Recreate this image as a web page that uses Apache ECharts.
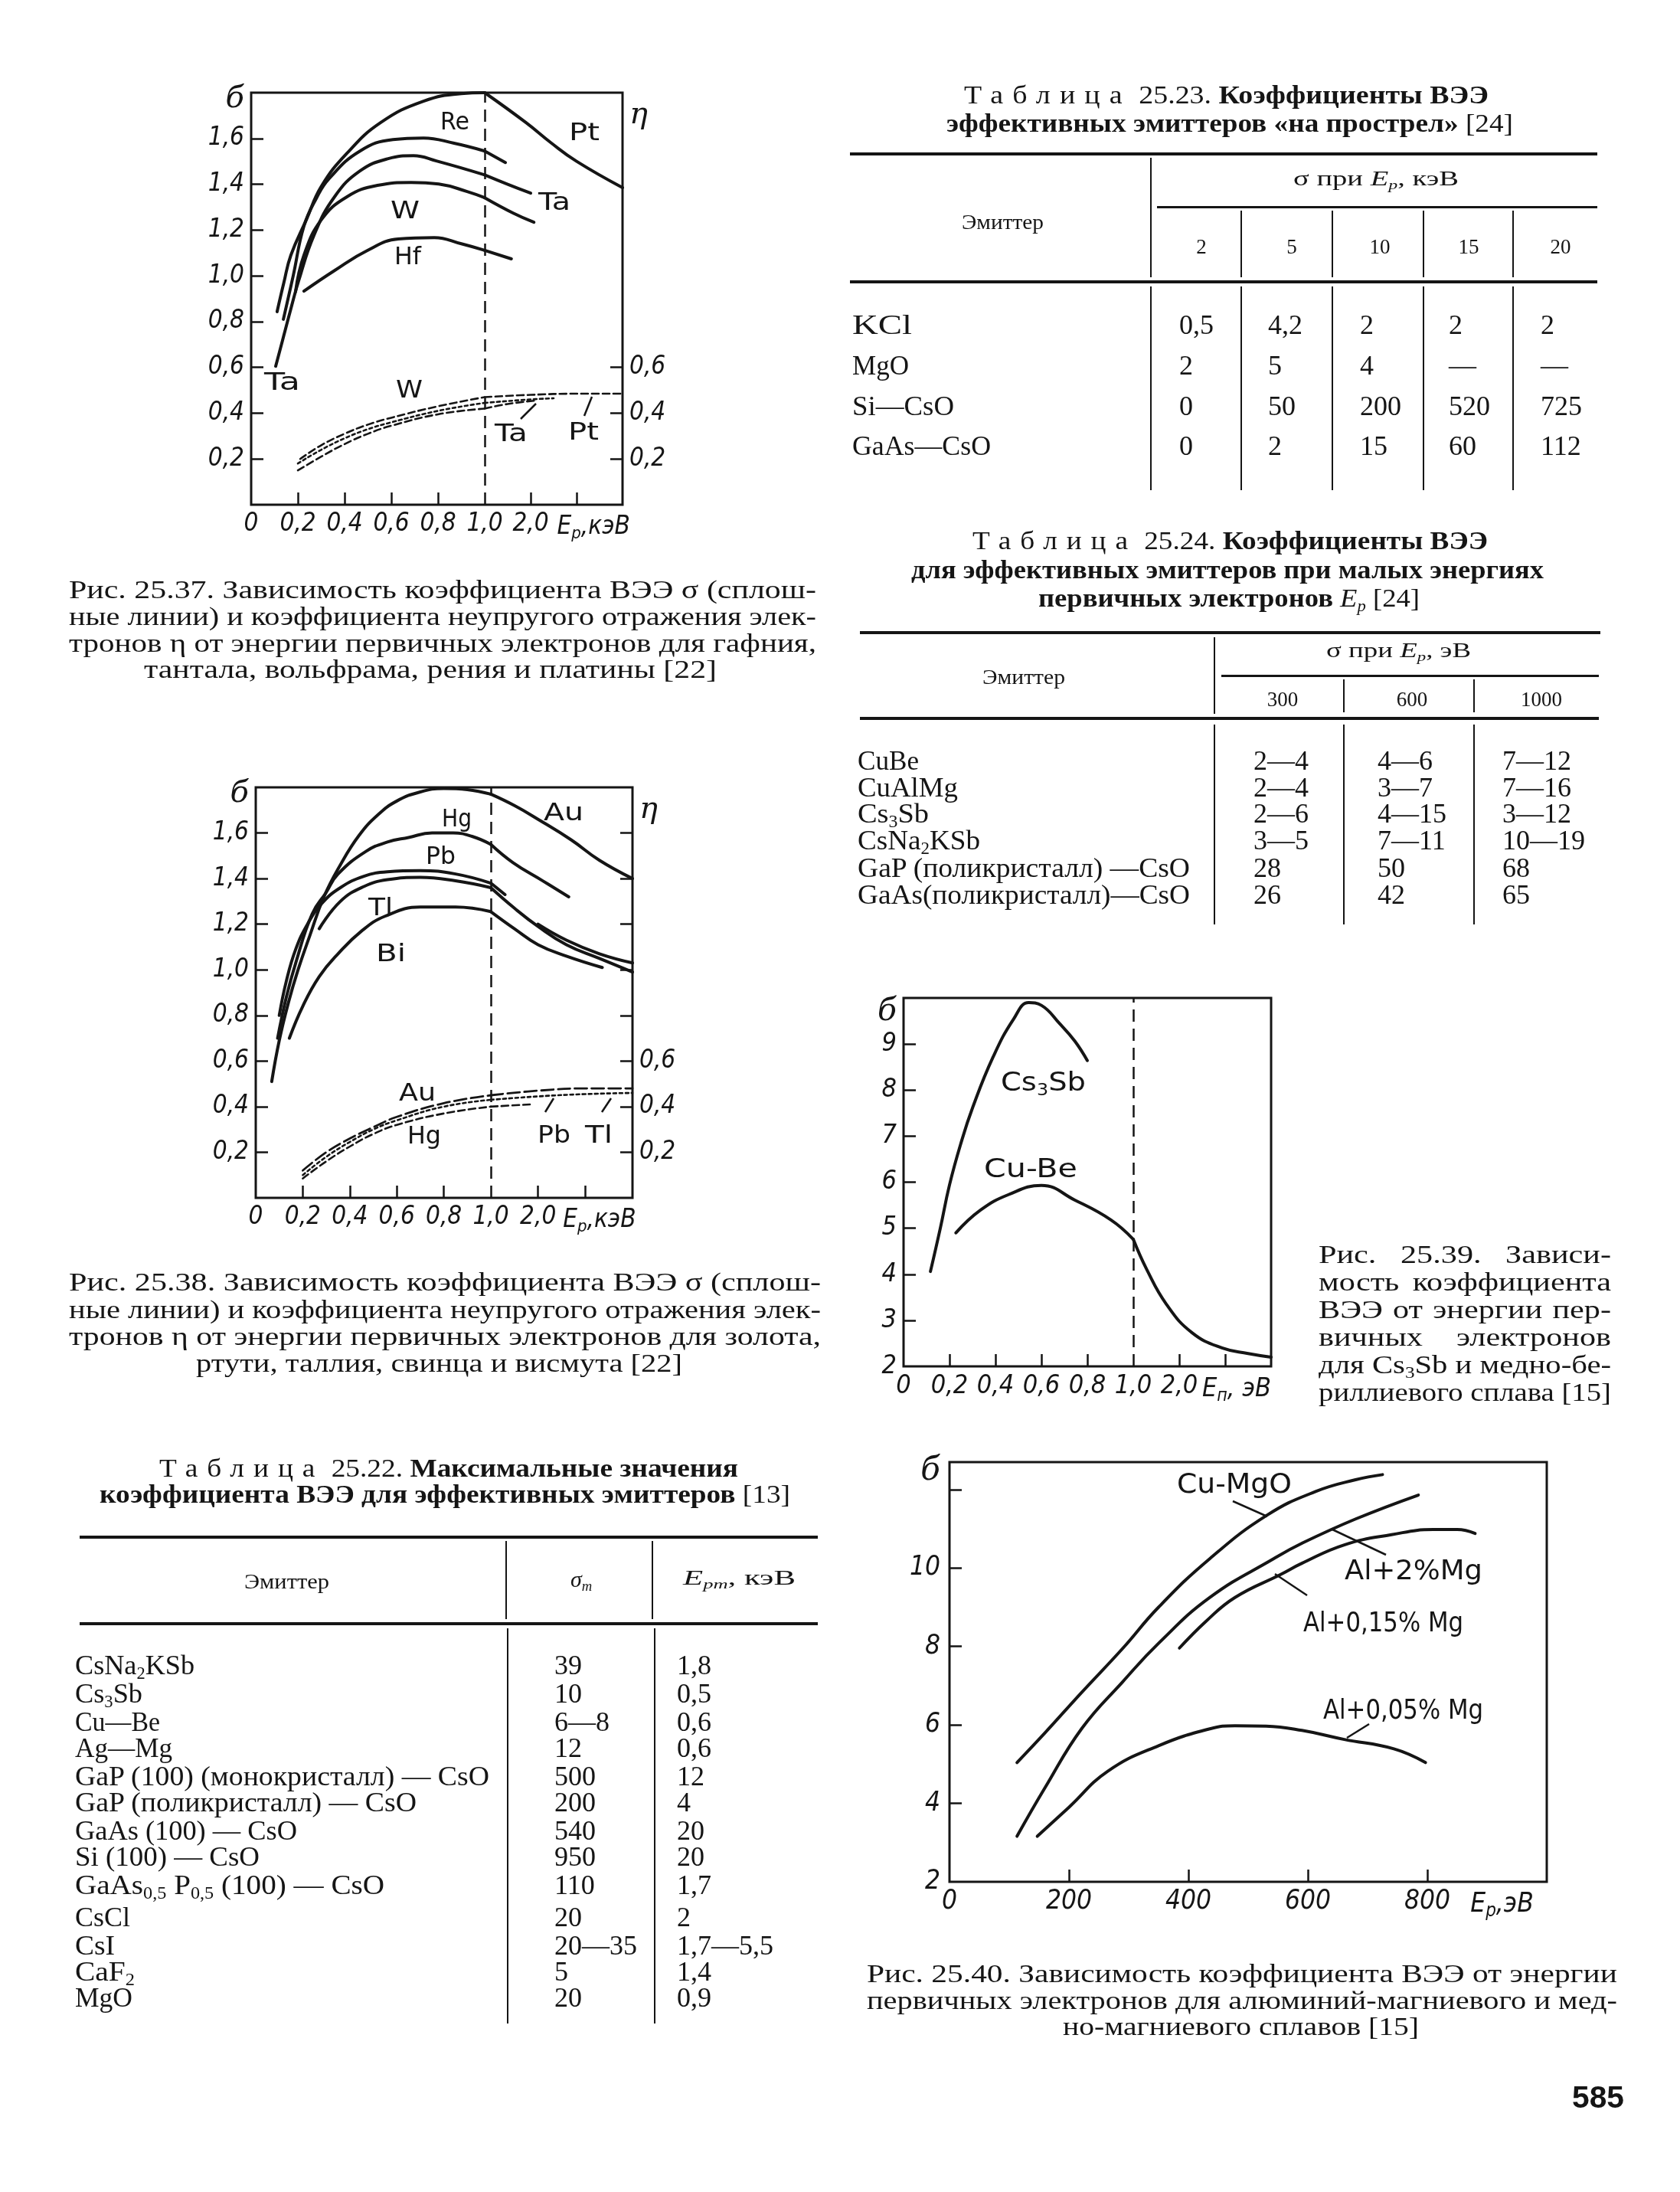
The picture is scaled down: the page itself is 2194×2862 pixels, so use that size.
<!DOCTYPE html>
<html>
<head>
<meta charset="utf-8">
<script src="https://cdn.jsdelivr.net/npm/echarts@6/dist/echarts.min.js"></script>
<style>
  html, body { margin: 0; padding: 0; background: #fff; }
  #page { position: relative; width: 2194px; height: 2862px; overflow: hidden; background: #fff; }
  #chart { position: absolute; left: 0; top: 0; width: 2194px; height: 2862px; }
  .t { position: absolute; white-space: nowrap; line-height: 1; color: #151515;
       font-family: "Liberation Serif", "Times New Roman", serif; transform-origin: 0 50%; }
  .t sub { font-size: 0.62em; vertical-align: -0.28em; line-height: 0; }
  .sp { letter-spacing: 0.32em; }
  .r { position: absolute; background: #151515; }
</style>
</head>
<body>
<div id="page"><div id="chart"></div></div>
<script>
// ---------- рис. 25.37: Ep (кэВ) -> σ, η ----------
const ptSigma = [[0.111, 0.843], [0.14, 0.97], [0.17, 1.09], [0.236, 1.244], [0.30, 1.39], [0.41, 1.535], [0.554, 1.669], [0.738, 1.763], [0.90, 1.796], [1.0, 1.80], [1.9, 1.669], [2.45, 1.58], [3.0, 1.50], [4.0, 1.385]];
const reSigma = [[0.138, 0.81], [0.18, 1.0], [0.226, 1.217], [0.28, 1.34], [0.334, 1.425], [0.466, 1.545], [0.607, 1.595], [0.738, 1.602], [0.869, 1.579], [1.0, 1.545], [1.45, 1.495]];
const taSigma = [[0.105, 0.605], [0.14, 0.74], [0.17, 0.856], [0.203, 0.977], [0.269, 1.177], [0.357, 1.345], [0.466, 1.458], [0.587, 1.512], [0.695, 1.525], [0.793, 1.502], [1.0, 1.441], [1.5, 1.40], [2.0, 1.361]];
const wSigma = [[0.19, 0.93], [0.226, 1.09], [0.30, 1.244], [0.41, 1.345], [0.541, 1.395], [0.685, 1.408], [0.803, 1.401], [0.925, 1.368], [1.0, 1.341], [1.62, 1.274], [2.07, 1.234]];
const hfSigma = [[0.226, 0.933], [0.357, 1.023], [0.498, 1.111], [0.63, 1.161], [0.784, 1.167], [0.90, 1.14], [1.0, 1.111], [1.58, 1.074]];
const ptEta = [[0.21, 0.2], [0.3, 0.26], [0.4, 0.31], [0.5, 0.35], [0.6, 0.38], [0.8, 0.43], [1.0, 0.47], [2.0, 0.48], [3.0, 0.485], [4.0, 0.485]];
const wEta = [[0.2, 0.18], [0.3, 0.24], [0.4, 0.29], [0.5, 0.33], [0.6, 0.36], [0.8, 0.41], [1.0, 0.445], [2.0, 0.46], [2.5, 0.465]];
const taEta = [[0.2, 0.15], [0.3, 0.21], [0.4, 0.265], [0.5, 0.31], [0.6, 0.345], [0.8, 0.395], [1.0, 0.42], [1.5, 0.44], [2.1, 0.455]];

// ---------- рис. 25.38 ----------
const auSigma = [[0.068, 0.51], [0.1, 0.69], [0.14, 0.86], [0.18, 1.0], [0.23, 1.15], [0.29, 1.32], [0.36, 1.46], [0.44, 1.59], [0.52, 1.68], [0.6, 1.74], [0.7, 1.78], [0.8, 1.795], [0.9, 1.79], [1.0, 1.77], [1.5, 1.72], [2.0, 1.66], [2.7, 1.57], [3.3, 1.48], [4.0, 1.40]];
const hgSigma = [[0.093, 0.70], [0.13, 0.88], [0.17, 1.03], [0.24, 1.245], [0.30, 1.34], [0.35, 1.42], [0.47, 1.52], [0.56, 1.56], [0.65, 1.58], [0.75, 1.60], [0.84, 1.60], [0.92, 1.585], [1.0, 1.55], [1.47, 1.47], [2.1, 1.39], [2.65, 1.32]];
const pbSigma = [[0.10, 0.80], [0.13, 0.95], [0.17, 1.09], [0.22, 1.2], [0.28, 1.29], [0.36, 1.36], [0.46, 1.41], [0.56, 1.43], [0.7, 1.435], [0.85, 1.42], [1.0, 1.38], [1.3, 1.33]];
const tlSigma = [[0.27, 1.18], [0.36, 1.30], [0.46, 1.365], [0.56, 1.395], [0.7, 1.405], [0.85, 1.39], [1.0, 1.36], [1.5, 1.27], [2.0, 1.19], [2.6, 1.11], [3.3, 1.05], [4.0, 0.99]];
const biSigma = [[0.143, 0.70], [0.2, 0.84], [0.27, 0.97], [0.35, 1.07], [0.45, 1.17], [0.55, 1.235], [0.7, 1.275], [0.85, 1.275], [1.0, 1.255], [1.5, 1.18], [2.0, 1.11], [2.6, 1.06], [3.36, 1.01]];
const tlTail = [[2.0, 1.20], [2.6, 1.13], [3.3, 1.07], [4.0, 1.03]];
const auEta = [[0.2, 0.12], [0.3, 0.20], [0.4, 0.26], [0.5, 0.31], [0.6, 0.355], [0.8, 0.415], [1.0, 0.45], [2.0, 0.47], [3.0, 0.48], [4.0, 0.48]];
const pbTlEta = [[0.2, 0.10], [0.3, 0.18], [0.4, 0.245], [0.5, 0.30], [0.6, 0.34], [0.8, 0.40], [1.0, 0.43], [2.0, 0.445], [3.0, 0.455], [4.0, 0.46]];
const hgEta = [[0.2, 0.085], [0.3, 0.16], [0.4, 0.225], [0.5, 0.28], [0.6, 0.32], [0.8, 0.37], [1.0, 0.40], [1.84, 0.41]];

// ---------- рис. 25.39 ----------
const cs3sbSigma = [[0.117, 4.06], [0.16, 5.0], [0.20, 5.94], [0.25, 6.85], [0.30, 7.61], [0.39, 8.72], [0.48, 9.55], [0.545, 9.9], [0.60, 9.84], [0.68, 9.44], [0.746, 9.06], [0.80, 8.64]];
const cuBeSigma = [[0.228, 4.9], [0.334, 5.39], [0.457, 5.73], [0.60, 5.93], [0.746, 5.61], [0.903, 5.18], [1.0, 4.76], [1.29, 4.11], [1.72, 3.35], [2.28, 2.73], [2.93, 2.40], [3.5, 2.28], [4.0, 2.2]];

// ---------- рис. 25.40: Ep (эВ) ----------
const cuMgO = [[113, 5.04], [160, 5.8], [222, 6.84], [290, 7.95], [350, 9.0], [436, 10.24], [532, 11.35], [613, 11.95], [680, 12.25], [725, 12.38]];
const al2Mg = [[113, 3.16], [160, 4.4], [222, 5.92], [290, 7.1], [350, 8.08], [436, 9.25], [543, 10.24], [590, 10.63], [680, 11.25], [785, 11.86]];
const al015Mg = [[385, 7.96], [430, 8.65], [478, 9.25], [555, 9.84], [590, 10.12], [661, 10.59], [740, 10.85], [810, 10.98], [850, 10.98], [880, 10.88]];
const al005Mg = [[147, 3.16], [200, 3.9], [265, 4.82], [350, 5.47], [436, 5.9], [478, 5.98], [530, 5.97], [590, 5.86], [661, 5.63], [744, 5.39], [797, 5.04]];

// ---------- деления осей ----------
const epLowTicks = [0.2, 0.4, 0.6, 0.8];
const epLowLabels = [0, 0.2, 0.4, 0.6, 0.8, 1.0];
const epHighTicks = [2, 3];
const epHighLabels = [2];
const sigmaTicks = [0.2, 0.4, 0.6, 0.8, 1.0, 1.2, 1.4, 1.6];
const etaTicks37 = [0.2, 0.4, 0.6];
const etaLabels = [0.2, 0.4, 0.6];
const sigmaTicks39 = [3, 4, 5, 6, 7, 8, 9];
const sigmaLabels39 = [2, 3, 4, 5, 6, 7, 8, 9];
const epTicks40 = [200, 400, 600, 800];
const epLabels40 = [0, 200, 400, 600, 800];
const sigmaTicks40 = [4, 6, 8, 10, 12];
const sigmaLabels40 = [2, 4, 6, 8, 10];

// ---------- таблицы ----------
const t23Emitters = ['KCl', 'MgO', 'Si—CsO', 'GaAs—CsO'];
const t23Energies = ['2', '5', '10', '15', '20'];
const t23Values = [
    ['0,5', '4,2', '2', '2', '2'],
    ['2', '5', '4', '—', '—'],
    ['0', '50', '200', '520', '725'],
    ['0', '2', '15', '60', '112']
];
const t24Emitters = ['CuBe', 'CuAlMg', 'Cs<sub>3</sub>Sb', 'CsNa<sub>2</sub>KSb', 'GaP (поликристалл) —CsO', 'GaAs(поликристалл)—CsO'];
const t24Energies = ['300', '600', '1000'];
const t24Values = [
    ['2—4', '4—6', '7—12'],
    ['2—4', '3—7', '7—16'],
    ['2—6', '4—15', '3—12'],
    ['3—5', '7—11', '10—19'],
    ['28', '50', '68'],
    ['26', '42', '65']
];
const t22Emitters = ['CsNa<sub>2</sub>KSb', 'Cs<sub>3</sub>Sb', 'Cu—Be', 'Ag—Mg', 'GaP (100) (монокристалл) — CsO', 'GaP (поликристалл) — CsO',
    'GaAs (100) — CsO', 'Si (100) — CsO', 'GaAs<sub>0,5</sub> P<sub>0,5</sub> (100) — CsO', 'CsCl', 'CsI', 'CaF<sub>2</sub>', 'MgO'];
const t22SigmaMax = ['39', '10', '6—8', '12', '500', '200', '540', '950', '110', '20', '20—35', '5', '20'];
const t22Epm = ['1,8', '0,5', '0,6', '0,6', '12', '4', '20', '20', '1,7', '2', '1,7—5,5', '1,4', '0,9'];

// ================= графики =================
const INK = '#151515';
const AXIS_FONT = '"Liberation Sans Narrow", "DejaVu Sans Condensed", "Liberation Sans", sans-serif';

let chart = echarts.init(document.querySelector('#chart'));

const option = {
    animation: false,
    backgroundColor: 'rgba(0,0,0,0)',
    grid: [], xAxis: [], yAxis: [], series: [], graphic: []
};

function eLabel(sub, unit) {
    return '{e|E}{s|' + sub + '}{e|,' + unit + '}';
}

function fmt(dec, special) {
    return function (v) {
        for (const [sv, st] of special || []) {
            if (Math.abs(v - sv) < 1e-6) return st;
        }
        if (Math.abs(v) < 1e-9) return '0';
        return v.toFixed(dec).replace('.', ',');
    };
}

function rich(fs) {
    return {
        e: { fontSize: fs, fontStyle: 'italic', fontFamily: AXIS_FONT, color: INK },
        s: { fontSize: Math.round(fs * 0.68), fontStyle: 'italic', fontFamily: AXIS_FONT, color: INK, padding: [Math.round(fs * 0.55), 0, 0, 0] },
        g: { fontSize: Math.round(fs * 1.2), fontStyle: 'italic', fontFamily: '"DejaVu Serif", serif', color: INK }
    };
}

function valAxis(o) {
    return {
        type: 'value', gridIndex: o.grid, position: o.position, min: o.min, max: o.max,
        axisLine: { show: false },
        splitLine: { show: false },
        axisTick: o.ticks ? { show: true, inside: true, length: 16, customValues: o.ticks, lineStyle: { color: INK, width: 2.5 } } : { show: false },
        axisLabel: o.labels ? {
            show: true, customValues: o.labels, formatter: o.fmt, margin: o.margin || 9,
            color: INK, fontSize: o.fs, fontStyle: 'italic', fontFamily: AXIS_FONT, rich: rich(o.fs),
            showMinLabel: true, showMaxLabel: true, hideOverlap: false
        } : { show: false }
    };
}

// график с разрывом шкалы при 1,0 кэВ: две сетки + рамка
function addBroken(c) {
    const g = option.grid.length;
    const xi = option.xAxis.length, yi = option.yAxis.length;
    option.grid.push({ left: c.left, top: c.top, width: c.split, height: c.height });
    option.grid.push({ left: c.left + c.split, top: c.top, width: c.width - c.split, height: c.height });
    option.grid.push({ left: c.left, top: c.top, width: c.width, height: c.height, show: true, borderColor: INK, borderWidth: 3, backgroundColor: 'rgba(0,0,0,0)' });
    const xf = fmt(1, c.xSpecial);
    option.xAxis.push(valAxis({ grid: g, min: 0, max: 1, ticks: epLowTicks, labels: epLowLabels, fmt: xf, fs: c.fs, margin: c.xMargin }));
    option.xAxis.push(valAxis({ grid: g + 1, min: 1, max: 4, ticks: epHighTicks, labels: c.xLabelsR, fmt: xf, fs: c.fs, margin: c.xMargin }));
    option.xAxis.push({ gridIndex: g + 2, type: 'value', show: false, min: 0, max: 1 });
    option.yAxis.push(valAxis({ grid: g, min: c.ymin, max: c.ymax, ticks: c.yTicks, labels: c.yLabels, fmt: fmt(c.yDec, c.ySpecial), fs: c.fs }));
    option.yAxis.push(valAxis({ grid: g + 1, position: 'right', min: c.ymin, max: c.ymax, ticks: c.rTicks, labels: c.rLabels, fmt: fmt(c.yDec, c.rSpecial), fs: c.fs }));
    option.yAxis.push({ gridIndex: g + 2, type: 'value', show: false, min: 0, max: 1 });
    return { xl: xi, yl: yi, xr: xi + 1, yr: yi + 1, marked: false };
}

function lineSeries(data, xi, yi, st) {
    return {
        type: 'line', xAxisIndex: xi, yAxisIndex: yi, data: data,
        smooth: 0.45, symbol: 'none', silent: true, z: 3,
        lineStyle: Object.assign({ color: INK, width: 4, cap: 'round', join: 'round' }, st || {})
    };
}

function addCurve(ax, data, st) {
    const lo = data.filter(p => p[0] <= 1), hi = data.filter(p => p[0] >= 1);
    if (lo.length > 1) {
        const s = lineSeries(lo, ax.xl, ax.yl, st);
        if (!ax.marked) {
            s.markLine = {
                silent: true, symbol: ['none', 'none'], label: { show: false },
                lineStyle: { color: INK, type: [16, 9], width: 2.5 },
                data: [{ xAxis: 1 }]
            };
            ax.marked = true;
        }
        option.series.push(s);
    }
    if (hi.length > 1) option.series.push(lineSeries(hi, ax.xr, ax.yr, st));
}

const ETA = { width: 2.6, type: [9, 5] };
const ETA2 = { width: 2.6, type: [4, 4] };

// рис. 25.37
const ax37 = addBroken({
    left: 328, top: 121, width: 485, height: 538, split: 305, ymin: 0, ymax: 1.8, fs: 33, yDec: 1,
    xLabelsR: epHighLabels.concat([3.37]), xSpecial: [[3.37, eLabel('p', 'кэВ')]],
    yTicks: sigmaTicks, yLabels: sigmaTicks.concat([1.77]), ySpecial: [[1.77, '{g|б}']],
    rTicks: etaTicks37, rLabels: etaLabels.concat([1.7]), rSpecial: [[1.7, '{g|η}']]
});
[ptSigma, reSigma, taSigma, wSigma, hfSigma].forEach(d => addCurve(ax37, d));
addCurve(ax37, ptEta, ETA);
addCurve(ax37, wEta, ETA2);
addCurve(ax37, taEta, ETA);

// рис. 25.38
const ax38 = addBroken({
    left: 334, top: 1028, width: 492, height: 536, split: 307, ymin: 0, ymax: 1.8, fs: 33, yDec: 1,
    xLabelsR: epHighLabels.concat([3.3]), xSpecial: [[3.3, eLabel('p', 'кэВ')]],
    yTicks: sigmaTicks, yLabels: sigmaTicks.concat([1.77]), ySpecial: [[1.77, '{g|б}']],
    rTicks: sigmaTicks, rLabels: etaLabels.concat([1.7]), rSpecial: [[1.7, '{g|η}']]
});
[auSigma, hgSigma, pbSigma, tlSigma, biSigma, tlTail].forEach(d => addCurve(ax38, d));
addCurve(ax38, auEta, { width: 2.8, type: [16, 6] });
addCurve(ax38, pbTlEta, ETA2);
addCurve(ax38, hgEta, ETA);

// рис. 25.39
const ax39 = addBroken({
    left: 1180, top: 1303, width: 480, height: 481, split: 300, ymin: 2, ymax: 10, fs: 34, yDec: 0,
    xLabelsR: epHighLabels.concat([3.25]), xSpecial: [[3.25, eLabel('п', ' эВ')]],
    yTicks: sigmaTicks39, yLabels: sigmaLabels39.concat([9.7]), ySpecial: [[9.7, '{g|б}']],
    rTicks: null, rLabels: null
});
addCurve(ax39, cs3sbSigma);
addCurve(ax39, cuBeSigma);

// рис. 25.40: одна сетка
(function () {
    const g = option.grid.length, xi = option.xAxis.length, yi = option.yAxis.length;
    option.grid.push({ left: 1240, top: 1909, width: 780, height: 548, show: true, borderColor: INK, borderWidth: 3, backgroundColor: 'rgba(0,0,0,0)' });
    option.xAxis.push(valAxis({ grid: g, min: 0, max: 1000, ticks: epTicks40, labels: epLabels40.concat([925]),
        fmt: fmt(0, [[925, eLabel('p', 'эВ')]]), fs: 35, margin: 8 }));
    option.yAxis.push(valAxis({ grid: g, min: 2, max: 12.7, ticks: sigmaTicks40, labels: sigmaLabels40.concat([12.47]),
        fmt: fmt(0, [[12.47, '{g|б}']]), fs: 35, margin: 12 }));
    [cuMgO, al2Mg, al015Mg, al005Mg].forEach(d => option.series.push(lineSeries(d, xi, yi)));
})();

// выноски к подписям кривых
const leaders = [
    [680, 547, 700, 527], [763, 543, 773, 518],
    [712, 1452, 723, 1434], [786, 1452, 798, 1434],
    [1610, 1960, 1655, 1980], [1740, 1997, 1810, 2030], [1665, 2055, 1707, 2083], [1759, 2269, 1788, 2251]
];
option.graphic = leaders.map(l => ({
    type: 'line', silent: true, z: 10,
    shape: { x1: l[0], y1: l[1], x2: l[2], y2: l[3] },
    style: { stroke: INK, lineWidth: 2.5 }
}));

chart.setOption(option);

// ================= текст и таблицы =================
const page = document.getElementById('page');

function put(html, x, y, o) {
    o = o || {};
    const d = document.createElement('div');
    d.className = 't';
    d.innerHTML = html;
    d.style.fontSize = (o.fs || 36) + 'px';
    if (o.ff) d.style.fontFamily = o.ff;
    if (o.bold) d.style.fontWeight = 'bold';
    page.appendChild(d);
    const nat = d.getBoundingClientRect();
    let s = o.w ? o.w / nat.width : (o.sx || 1);
    let boxW = nat.width;
    if (o.just && o.w && s > 1.28) {
        s = 1.28;
        boxW = o.w / s;
        d.style.width = boxW + 'px';
        d.style.whiteSpace = 'normal';
        d.style.textAlign = 'justify';
        d.style.textAlignLast = 'justify';
    }
    const w = boxW * s;
    const al = o.al || 'l';
    const left = al === 'l' ? x : (al === 'c' ? x - w / 2 : x - w);
    d.style.left = left + 'px';
    d.style.top = (y - nat.height / 2) + 'px';
    d.style.transform = 'scaleX(' + s.toFixed(4) + ')';
}

function rect(x, y, w, h) {
    const d = document.createElement('div');
    d.className = 'r';
    d.style.left = x + 'px'; d.style.top = y + 'px';
    d.style.width = w + 'px'; d.style.height = h + 'px';
    page.appendChild(d);
}
function hline(x1, x2, y, th) { rect(x1, y - th / 2, x2 - x1, th); }
function vline(x, y1, y2, th) { rect(x - th / 2, y1, th, y2 - y1); }

// подписи кривых
const SANS = '"DejaVu Sans", sans-serif';
const curveLabels = [
    ['Re', 594, 158, 38, 32], ['Pt', 763, 172, 40, 32], ['Ta', 724, 263, 42, 32], ['W', 529, 274, 38, 32],
    ['Hf', 532, 334, 35, 32], ['Ta', 368, 498, 47, 32], ['W', 534, 508, 35, 32], ['Ta', 667, 565, 43, 32], ['Pt', 762, 563, 40, 32],
    ['Hg', 596, 1068, 39, 32], ['Au', 736, 1060, 52, 32], ['Pb', 575, 1117, 39, 32], ['Tl', 497, 1184, 32, 32],
    ['Bi', 510, 1244, 39, 32], ['Au', 545, 1426, 48, 32], ['Hg', 554, 1482, 44, 32], ['Pb', 723, 1481, 43, 32], ['Tl', 782, 1481, 36, 32],
    ['Cs<sub>3</sub>Sb', 1362, 1412, 111, 34], ['Cu-Be', 1346, 1525, 122, 34],
    ['Cu-MgO', 1612, 1937, 150, 36], ['Al+2%Mg', 1846, 2050, 180, 36], ['Al+0,15% Mg', 1806, 2118, 209, 36], ['Al+0,05% Mg', 1832, 2232, 209, 36]
];
curveLabels.forEach(l => put(l[0], l[1], l[2], { w: l[3], fs: l[4], ff: SANS, al: 'c' }));

// подрисуночные подписи
function caption(lines, left, width, ys, lastCenter, lastWidth) {
    lines.forEach((ln, i) => {
        if (i === lines.length - 1 && lastCenter) put(ln, lastCenter, ys[i], { w: lastWidth, fs: 33, al: 'c' });
        else put(ln, left, ys[i], { w: width, fs: 33, just: true });
    });
}
caption(['Рис. 25.37. Зависимость  коэффициента ВЭЭ σ (сплош-', 'ные линии) и коэффициента неупругого отражения элек-',
    'тронов η от энергии первичных электронов для гафния,', 'тантала, вольфрама, рения и платины [22]'],
    90, 976, [770, 805, 840, 874], 562, 748);
caption(['Рис. 25.38. Зависимость  коэффициента  ВЭЭ σ (сплош-', 'ные линии) и коэффициента  неупругого отражения элек-',
    'тронов η от энергии первичных электронов  для золота,', 'ртути, таллия, свинца и висмута [22]'],
    90, 982, [1674, 1710, 1745, 1780], 573, 635);
caption(['Рис. 25.39. Зависи-', 'мость коэффициента', 'ВЭЭ от энергии пер-', 'вичных электронов',
    'для Cs<sub>3</sub>Sb и медно-бе-', 'риллиевого сплава [15]'],
    1722, 382, [1638, 1674, 1710, 1746, 1782, 1818], null, null);
caption(['Рис. 25.40. Зависимость коэффициента  ВЭЭ от энергии', 'первичных электронов для алюминий-магниевого и мед-',
    'но-магниевого сплавов [15]'], 1132, 980, [2577, 2612, 2646], 1620, 465);

// Таблица 25.23
put('<span class="sp">Таблица</span> 25.23. <b>Коэффициенты ВЭЭ</b>', 1259, 124, { w: 685, fs: 33 });
put('<b>эффективных эмиттеров «на прострел»</b> [24]', 1236, 161, { w: 740, fs: 33 });
hline(1110, 2086, 201, 4);
vline(1503, 206, 362, 2.5);
put('σ при <i>E<sub>p</sub></i>,  кэВ', 1797, 233, { w: 216, fs: 27, al: 'c' });
hline(1511, 2086, 270, 3);
[1621, 1740, 1859, 1976].forEach(x => vline(x, 275, 362, 2.5));
put('Эмиттер', 1309, 290, { w: 107, fs: 27, al: 'c' });
const t23HeadX = [1569, 1687, 1802, 1918, 2038];
t23Energies.forEach((e, i) => put(e, t23HeadX[i], 322, { fs: 27, al: 'c' }));
hline(1110, 2086, 368, 4);
[1503, 1621, 1740, 1859, 1976].forEach(x => vline(x, 374, 640, 2.5));
const t23RowY = [424, 477, 530, 582];
const t23LabW = [78, 74, 133, 181];
const t23ColX = [1540, 1656, 1776, 1892, 2012];
t23Emitters.forEach((e, r) => {
    put(e, 1113, t23RowY[r], { w: t23LabW[r], fs: 36 });
    t23Values[r].forEach((v, c) => put(v, t23ColX[c], t23RowY[r], { fs: 36 }));
});

// Таблица 25.24
put('<span class="sp">Таблица</span> 25.24. <b>Коэффициенты ВЭЭ</b>', 1270, 706, { w: 673, fs: 33 });
put('<b>для эффективных эмиттеров при малых энергиях</b>', 1190, 744, { w: 826, fs: 33 });
put('<b>первичных электронов</b> <i>E<sub>p</sub></i> [24]', 1356, 781, { w: 498, fs: 33 });
hline(1123, 2090, 826, 4);
vline(1586, 832, 932, 2.5);
put('σ при <i>E<sub>p</sub></i>, эВ', 1826, 849, { w: 189, fs: 27, al: 'c' });
hline(1595, 2088, 882, 3);
[1755, 1925].forEach(x => vline(x, 887, 930, 2.5));
put('Эмиттер', 1337, 884, { w: 108, fs: 27, al: 'c' });
const t24HeadX = [1675, 1844, 2013];
t24Energies.forEach((e, i) => put(e, t24HeadX[i], 913, { fs: 27, al: 'c' }));
hline(1123, 2088, 938, 4);
[1586, 1755, 1925].forEach(x => vline(x, 946, 1207, 2.5));
const t24RowY = [993, 1028, 1062, 1097, 1133, 1168];
const t24LabW = [80, 131, 93, 160, 434, 434];
const t24ColX = [1637, 1799, 1962];
t24Emitters.forEach((e, r) => {
    put(e, 1120, t24RowY[r], { w: t24LabW[r], fs: 36 });
    t24Values[r].forEach((v, c) => put(v, t24ColX[c], t24RowY[r], { fs: 36 }));
});

// Таблица 25.22
put('<span class="sp">Таблица</span> 25.22. <b>Максимальные значения</b>', 208, 1917, { w: 756, fs: 33 });
put('<b>коэффициента ВЭЭ  для эффективных эмиттеров</b> [13]', 130, 1951, { w: 902, fs: 33 });
hline(104, 1068, 2007, 4);
[661, 852].forEach(x => vline(x, 2012, 2114, 2.5));
put('Эмиттер', 374, 2065, { w: 111, fs: 28, al: 'c' });
put('<i>σ<sub>m</sub></i>', 759, 2062, { fs: 30, al: 'c' });
put('<i>E<sub>pm</sub></i>, кэВ', 965, 2060, { w: 147, fs: 28, al: 'c' });
hline(104, 1068, 2120, 4);
[663, 855].forEach(x => vline(x, 2126, 2642, 2.5));
const t22RowY = [2174, 2211, 2248, 2282, 2319, 2353, 2390, 2424, 2461, 2503, 2540, 2574, 2608];
const t22LabW = [156, 88, 111, 127, 541, 446, 290, 241, 404, 72, 52, 78, 75];
t22Emitters.forEach((e, r) => {
    put(e, 98, t22RowY[r], { w: t22LabW[r], fs: 36 });
    put(t22SigmaMax[r], 724, t22RowY[r], { fs: 36 });
    put(t22Epm[r], 884, t22RowY[r], { fs: 36 });
});

// номер страницы
put('<b>585</b>', 2087, 2738, { w: 68, fs: 40, al: 'c', ff: '"Liberation Sans", sans-serif' });

function throttle(fn, delay = 32) {
    let t = null;
    return function () {
        if (t) return;
        t = setTimeout(() => { fn(); t = null; }, delay);
    };
}
window.addEventListener('resize', throttle(() => chart.resize()));
</script>
</body>
</html>
